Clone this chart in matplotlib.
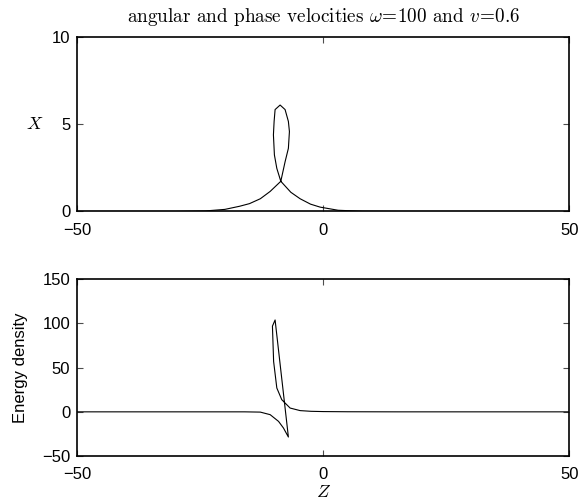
import numpy as np
import matplotlib
matplotlib.use("Agg")
import matplotlib.pyplot as plt

plt.rcParams["font.family"] = ["Liberation Sans", "DejaVu Sans"]
plt.rcParams["mathtext.fontset"] = "cm"

# curve of X against Z (top panel)
top_z = [-50, -30, -24, -20, -17, -15, -12.8, -10.8, -8.64, -7.77, -7.1, -6.89,
         -7.1, -7.77, -8.78, -9.8, -10.0, -10.14, -9.94, -9.45, -8.64, -6.6,
         -4.72, -2.6, -0.66, 3, 8, 15, 30, 50]
top_x = [0, 0.0, 0.03, 0.12, 0.3, 0.45, 0.73, 1.15, 1.73, 2.85, 3.62, 4.58,
         5.16, 5.84, 6.1, 5.84, 5.16, 4.39, 3.24, 2.47, 1.73, 1.1,
         0.73, 0.42, 0.25, 0.07, 0.01, 0, 0, 0]

# energy density against Z (bottom panel)
bot_z = [-50, -30, -16, -12.8, -10.8, -9.1, -8.1, -7.1, -9.8, -10.34, -10.1,
         -9.45, -8.45, -7.97, -6.75, -4.72, -2.5, 0, 5, 15, 50]
bot_e = [0, 0, 0, -0.3, -3.2, -10.8, -18.3, -28.5, 104, 97, 57,
         27, 13.8, 11.1, 4.3, 1.4, 0.6, 0.3, 0.1, 0, 0]

z_ticks = [-50, 0, 50]
x_ticks = [0, 5, 10]
e_ticks = [-50, 0, 50, 100, 150]

title = r"angular and phase velocities $\omega\!=\!$100 and $v\!=\!$0.6"


def style(ax):
    ax.tick_params(direction="in", length=4, width=0.8, top=True, right=True,
                   labelsize=12, color="0.3")
    ax.tick_params(axis="x", pad=8)
    ax.tick_params(axis="y", pad=5)
    for s in ax.spines.values():
        s.set_linewidth(1.2)


def main():
    fig = plt.figure(figsize=(5.78, 5.04), dpi=100)
    ax1 = fig.add_axes([0.1336, 0.5804, 0.8516, 0.3462])
    ax2 = fig.add_axes([0.1336, 0.0952, 0.8516, 0.3506])

    ax1.plot(top_z, top_x, color="black", lw=0.8)
    ax1.set_xlim(-50, 50)
    ax1.set_ylim(0, 10)
    ax1.set_xticks(z_ticks)
    ax1.set_yticks(x_ticks)
    ax1.set_xticklabels(["\u221250", "0", "50"])
    style(ax1)
    ax1.set_ylabel(r"$X$", fontsize=13, rotation=0, labelpad=12, va="center")
    ax1.set_title(title, fontsize=13.8, family="cmr10", pad=11)

    ax2.plot(bot_z, bot_e, color="black", lw=0.8)
    ax2.set_xlim(-50, 50)
    ax2.set_ylim(-50, 150)
    ax2.set_xticks(z_ticks)
    ax2.set_yticks(e_ticks)
    ax2.set_xticklabels(["\u221250", "0", "50"])
    ax2.set_yticklabels(["\u221250", "0", "50", "100", "150"])
    style(ax2)
    ax2.set_ylabel("Energy density", fontsize=12, labelpad=10)
    ax2.set_xlabel(r"$Z$", fontsize=13, labelpad=1)

    fig.savefig("out.png", dpi=100)


if __name__ == '__main__':
    main()
